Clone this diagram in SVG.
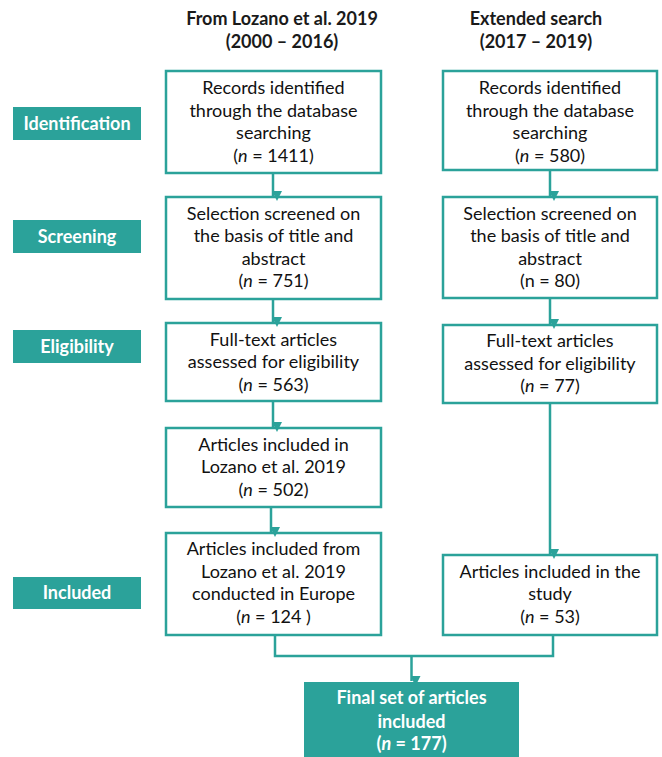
<svg xmlns="http://www.w3.org/2000/svg" width="662" height="757" viewBox="0 0 662 757">
<style>
.box{fill:#ffffff;stroke:#2ba29a;stroke-width:2.5}
.lab{fill:#2ba29a}
.t{font-family:Lato,"Open Sans",sans-serif;font-size:18px;fill:#111111;text-anchor:middle}
.h{font-family:Lato,"Open Sans",sans-serif;font-size:18px;font-weight:bold;fill:#1a1a1a;text-anchor:middle}
.w{font-family:Lato,"Open Sans",sans-serif;font-size:18px;font-weight:bold;fill:#ffffff;text-anchor:middle}
.i{font-style:italic}
.c{fill:none;stroke:#2ba29a;stroke-width:2.5}
</style>
<defs>
<marker id="ah" markerUnits="userSpaceOnUse" markerWidth="10" markerHeight="10" refX="5" refY="9" orient="auto-start-reverse" viewBox="0 0 10 10">
<path d="M0,0 L10,0 L5,10 Z" fill="#2ba29a" transform="rotate(-90 5 5)"/>
</marker>
</defs>
<rect width="662" height="757" fill="#ffffff"/>
<g id="headers">
<text class="h" x="282" y="25">From Lozano et al. 2019</text>
<text class="h" x="282" y="48">(2000 – 2016)</text>
<text class="h" x="536" y="25">Extended search</text>
<text class="h" x="536" y="48">(2017 – 2019)</text>
</g>
<g id="label-identification"><rect class="lab" x="13" y="107" width="128" height="33"/><text class="w" x="77" y="130">Identification</text></g>
<g id="label-screening"><rect class="lab" x="13" y="220" width="128" height="33"/><text class="w" x="77" y="243">Screening</text></g>
<g id="label-eligibility"><rect class="lab" x="13" y="330" width="128" height="33"/><text class="w" x="77" y="353">Eligibility</text></g>
<g id="label-included"><rect class="lab" x="13" y="577" width="128" height="32"/><text class="w" x="77" y="599">Included</text></g>

<g id="L1"><rect class="box" x="166" y="71" width="215" height="102"/>
<text class="t" x="273.5" y="94">Records identified</text>
<text class="t" x="273.5" y="116.5">through the database</text>
<text class="t" x="273.5" y="139">searching</text>
<text class="t" x="273.5" y="161.5">(<tspan class="i">n</tspan> = 1411)</text></g>
<g id="R1"><rect class="box" x="443" y="71" width="214" height="99"/>
<text class="t" x="550" y="94">Records identified</text>
<text class="t" x="550" y="116.5">through the database</text>
<text class="t" x="550" y="139">searching</text>
<text class="t" x="550" y="161.5">(<tspan class="i">n</tspan> = 580)</text></g>

<g id="L2"><rect class="box" x="166" y="197" width="215" height="102"/>
<text class="t" x="273.5" y="219.5">Selection screened on</text>
<text class="t" x="273.5" y="242">the basis of title and</text>
<text class="t" x="273.5" y="264.5">abstract</text>
<text class="t" x="273.5" y="287">(<tspan class="i">n</tspan> = 751)</text></g>
<g id="R2"><rect class="box" x="443" y="197" width="214" height="101"/>
<text class="t" x="550" y="219.5">Selection screened on</text>
<text class="t" x="550" y="242">the basis of title and</text>
<text class="t" x="550" y="264.5">abstract</text>
<text class="t" x="550" y="287">(n = 80)</text></g>

<g id="L3"><rect class="box" x="166" y="323" width="215" height="78"/>
<text class="t" x="273.5" y="345.5">Full-text articles</text>
<text class="t" x="273.5" y="368">assessed for eligibility</text>
<text class="t" x="273.5" y="390.5">(<tspan class="i">n</tspan> = 563)</text></g>
<g id="R3"><rect class="box" x="443" y="325" width="214" height="78"/>
<text class="t" x="550" y="347">Full-text articles</text>
<text class="t" x="550" y="369.5">assessed for eligibility</text>
<text class="t" x="550" y="392">(<tspan class="i">n</tspan> = 77)</text></g>

<g id="L4"><rect class="box" x="166" y="428" width="215" height="79"/>
<text class="t" x="273.5" y="450.5">Articles included in</text>
<text class="t" x="273.5" y="473">Lozano et al. 2019</text>
<text class="t" x="273.5" y="495.5">(<tspan class="i">n</tspan> = 502)</text></g>

<g id="L5"><rect class="box" x="166" y="533" width="215" height="102"/>
<text class="t" x="273.5" y="555">Articles included from</text>
<text class="t" x="273.5" y="577.5">Lozano et al. 2019</text>
<text class="t" x="273.5" y="600">conducted in Europe</text>
<text class="t" x="273.5" y="622.5">(<tspan class="i">n</tspan> = 124 )</text></g>
<g id="R4"><rect class="box" x="443" y="555" width="214" height="80"/>
<text class="t" x="550" y="577.5">Articles included in the</text>
<text class="t" x="550" y="600">study</text>
<text class="t" x="550" y="622.5">(<tspan class="i">n</tspan> = 53)</text></g>

<g id="final"><rect x="304" y="682" width="215" height="80" fill="#2ba29a"/>
<text class="w" x="411.5" y="704">Final set of articles</text>
<text class="w" x="411.5" y="727.5">included</text>
<text class="w" x="411.5" y="750">(<tspan class="i">n</tspan> = 177)</text></g>

<g id="connectors">
<line class="c" x1="273" y1="174" x2="273" y2="196" marker-end="url(#ah)"/>
<line class="c" x1="550" y1="171" x2="550" y2="196" marker-end="url(#ah)"/>
<line class="c" x1="273" y1="300" x2="273" y2="322" marker-end="url(#ah)"/>
<line class="c" x1="550" y1="299" x2="550" y2="324" marker-end="url(#ah)"/>
<line class="c" x1="273" y1="402" x2="273" y2="427" marker-end="url(#ah)"/>
<line class="c" x1="271" y1="508" x2="271" y2="532" marker-end="url(#ah)"/>
<line class="c" x1="550" y1="404" x2="550" y2="554" marker-end="url(#ah)"/>
<polyline class="c" points="275,636 275,656 553,656 553,636"/>
<line class="c" x1="411.5" y1="656" x2="411.5" y2="681" marker-end="url(#ah)"/>
</g>
</svg>
